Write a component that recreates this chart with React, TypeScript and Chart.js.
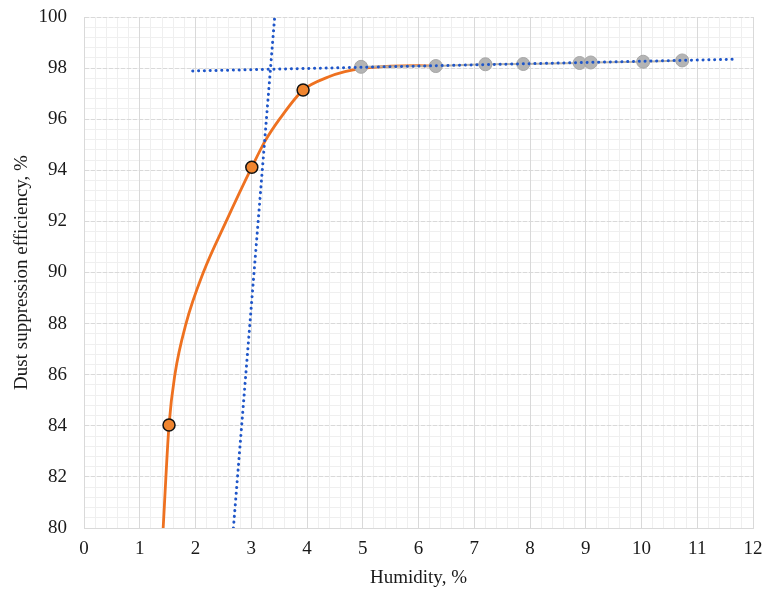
import React, { useEffect, useRef } from "react";
import { Chart, registerables } from "chart.js";

Chart.register(...registerables);

// Orange measured points
const orangeX = [1.525, 3.01, 3.93];
const orangeY = [84.03, 94.12, 97.14];

// Orange smoothed curve
const curveX = [1.42, 1.525, 1.63, 1.83, 2.14, 2.55, 3.01, 3.25, 3.52, 3.93, 4.38, 4.68, 5.01, 5.5, 6.0, 6.31];
const curveY = [80, 84.03, 86, 88, 90, 92, 94.12, 95.15, 96.04, 97.14, 97.65, 97.86, 97.99, 98.08, 98.1, 98.08];

// Gray measured points
const grayX = [4.97, 6.31, 7.2, 7.88, 8.89, 9.09, 10.03, 10.73];
const grayY = [98.05, 98.08, 98.15, 98.16, 98.2, 98.22, 98.25, 98.3];

// Linear trendlines (endpoints)
const trendFlatX = [1.95, 11.72];
const trendFlatY = [97.89, 98.35];
const trendSteepX = [2.68, 3.42];
const trendSteepY = [80, 100];

const xTitle = "Humidity, %";
const yTitle = "Dust suppression efficiency, %";

const pts = (xs: number[], ys: number[]) => xs.map((x, i) => ({ x, y: ys[i] }));

export default function App() {
  const ref = useRef<HTMLCanvasElement | null>(null);
  useEffect(() => {
    if (!ref.current) return;
    const font = { family: "'Liberation Serif', 'Times New Roman', serif", size: 19 };
    const dotted = {
      borderColor: "#1f56c9",
      borderWidth: 3,
      borderDash: [0.1, 5.7],
      borderCapStyle: "round" as const,
      pointRadius: 0,
      showLine: true,
      fill: false,
    };
    const noPad = (s: any) => {
      s.paddingTop = 0;
      s.paddingBottom = 0;
      s.paddingLeft = 0;
      s.paddingRight = 0;
    };
    const chart = new Chart(ref.current, {
      type: "scatter",
      data: {
        datasets: [
          {
            data: pts(orangeX, orangeY),
            pointRadius: 6,
            pointBackgroundColor: "#f0852f",
            pointBorderColor: "#111111",
            pointBorderWidth: 1.5,
            showLine: false,
            order: 0,
          },
          { ...dotted, data: pts(trendFlatX, trendFlatY), order: 1 },
          { ...dotted, data: pts(trendSteepX, trendSteepY), order: 1 },
          {
            data: pts(grayX, grayY),
            showLine: true,
            borderColor: "#b9b3a8",
            borderWidth: 2,
            pointRadius: 6.5,
            pointBackgroundColor: "#b4b4b4",
            pointBorderColor: "#a6a6a6",
            pointBorderWidth: 1,
            order: 2,
          },
          {
            data: pts(curveX, curveY),
            showLine: true,
            borderColor: "#ee7120",
            borderWidth: 2.8,
            pointRadius: 0,
            cubicInterpolationMode: "monotone",
            order: 3,
          },
        ],
      },
      options: {
        animation: false,
        responsive: false,
        maintainAspectRatio: false,
        layout: { padding: { top: 17, right: 11, left: 0, bottom: 0 } },
        plugins: { legend: { display: false }, tooltip: { enabled: false } },
        scales: {
          xMinor: {
            type: "linear",
            position: "bottom",
            min: 0,
            max: 12,
            ticks: { display: false, stepSize: 0.2 },
            grid: { color: "#efefef", drawTicks: false, z: -1 } as any,
            border: { display: false },
            afterFit: (s: any) => { s.height = 0; noPad(s); },
          },
          yMinor: {
            type: "linear",
            position: "left",
            min: 80,
            max: 100,
            ticks: { display: false, stepSize: 0.4 },
            grid: { color: "#efefef", drawTicks: false, z: -1 } as any,
            border: { display: false },
            afterFit: (s: any) => { s.width = 0; noPad(s); },
          },
          x: {
            type: "linear",
            position: "bottom",
            min: 0,
            max: 12,
            ticks: { stepSize: 1, font, color: "#1a1a1a", padding: 10 },
            grid: { color: "#d9d9d9", drawTicks: false, lineWidth: 1 },
            border: { display: true, color: "#d9d9d9" },
            title: { display: true, text: xTitle, font, color: "#1a1a1a", padding: { top: 0, bottom: 8 } },
            afterFit: (s: any) => { s.height = 69; noPad(s); },
          },
          y: {
            type: "linear",
            position: "left",
            min: 80,
            max: 100,
            ticks: { stepSize: 2, font, color: "#1a1a1a", padding: 17 },
            grid: { color: "#d9d9d9", drawTicks: false, lineWidth: 1 },
            border: { display: true, color: "#d9d9d9", dash: [4, 2] },
            title: { display: true, text: yTitle, font, color: "#1a1a1a", padding: { top: 11, bottom: 0 } },
            afterFit: (s: any) => { s.width = 84; noPad(s); },
          },
        },
      },
    });
    return () => chart.destroy();
  }, []);
  return (
    <div style={{ position: "fixed", left: 0, top: 0, width: 764, height: 597, background: "#fff" }}>
      <canvas ref={ref} width={764} height={597} style={{ width: 764, height: 597 }} />
    </div>
  );
}
